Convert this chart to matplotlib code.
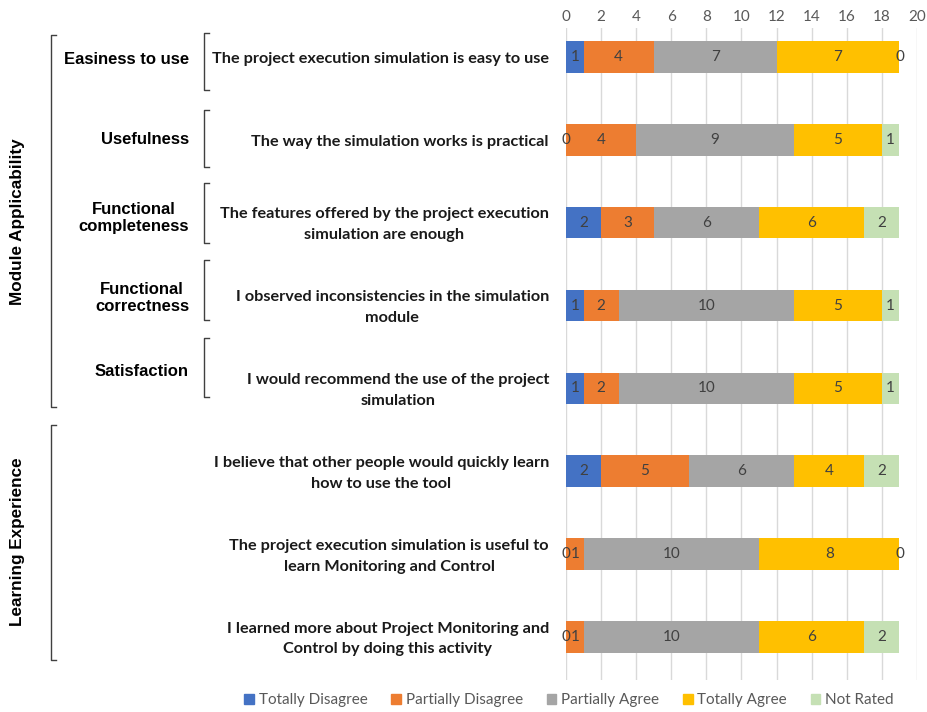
import matplotlib
matplotlib.use('Agg')
import matplotlib.pyplot as plt
from matplotlib.lines import Line2D
from matplotlib.patches import Patch

# data
statements = [
    "The project execution simulation is easy to use",
    "The way the simulation works is practical",
    "The features offered by the project execution\nsimulation are enough",
    "I observed inconsistencies in the simulation\nmodule",
    "I would recommend the use of the project\nsimulation",
    "I believe that other people would quickly learn\nhow to use the tool",
    "The project execution simulation is useful to\nlearn Monitoring and Control",
    "I learned more about Project Monitoring and\nControl by doing this activity",
]
series = ["Totally Disagree", "Partially Disagree", "Partially Agree", "Totally Agree", "Not Rated"]
totally_disagree = [1, 0, 2, 1, 1, 2, 0, 0]
partially_disagree = [4, 4, 3, 2, 2, 5, 1, 1]
partially_agree = [7, 9, 6, 10, 10, 6, 10, 10]
totally_agree = [7, 5, 6, 5, 5, 4, 8, 6]
not_rated = [0, 1, 2, 1, 1, 2, 0, 2]
criteria = ["Easiness to use", "Usefulness", "Functional\ncompleteness",
            "Functional\ncorrectness", "Satisfaction"]
groups = ["Module Applicability", "Learning Experience"]

colors = ["#4472C4", "#ED7D31", "#A5A5A5", "#FFC000", "#C5E0B4"]
values = [totally_disagree, partially_disagree, partially_agree, totally_agree, not_rated]

W, H = 928, 712
fig = plt.figure(figsize=(W / 100, H / 100), dpi=100)


def fx(x):
    return x / W


def fy(y):
    return 1 - y / H


ax = fig.add_axes([fx(566), fy(680), fx(917) - fx(566), fy(28) - fy(680)])

n = len(statements)
ypos = list(range(n))
left = [0] * n
for name, vals, c in zip(series, values, colors):
    ax.barh(ypos, vals, left=left, height=0.38, color=c, label=name, zorder=3)
    for i, v in enumerate(vals):
        ax.text(left[i] + v / 2, i, str(v), ha='center', va='center',
                fontsize=11, color='#404040', family='Lato', zorder=4)
    left = [l + v for l, v in zip(left, vals)]

ax.set_xlim(0, 20)
ax.set_ylim(7.52, -0.35)
ax.set_xticks(range(0, 21, 2))
ax.xaxis.tick_top()
ax.tick_params(axis='x', length=0, labelsize=11, labelcolor='#595959', pad=3)
for lab in ax.get_xticklabels():
    lab.set_family('Lato')
ax.set_yticks([])
ax.grid(axis='x', color='#D9D9D9', linewidth=1, zorder=0)
for s in ax.spines.values():
    s.set_visible(False)

# statements
for i, s in enumerate(statements):
    yc = 59 + 82.86 * i
    fig.text(fx(549), fy(yc), s, ha='right', va='center', multialignment='center',
             fontsize=11.7, fontweight='bold', family='Lato', color='#1a1a1a',
             linespacing=1.62)

# criteria labels and brackets
crit_y = [60, 140, 218, 298, 371]
brackets = [(33, 90), (110, 167), (183, 243), (260, 320), (338, 397)]
for c, y in zip(criteria, crit_y):
    fig.text(fx(189), fy(y), c, ha='right', va='center', multialignment='center',
             fontsize=12, fontweight='bold', family='Liberation Sans', linespacing=1.15)


def bracket(x, y0, y1):
    xs = [fx(x + 5), fx(x), fx(x), fx(x + 5)]
    ys = [fy(y0), fy(y0), fy(y1), fy(y1)]
    fig.add_artist(Line2D(xs, ys, color='#404040', linewidth=1))


for y0, y1 in brackets:
    bracket(204, y0, y1)

bracket(51, 35, 407)
bracket(51, 425, 660)
fig.text(fx(18), fy(222), groups[0], rotation=90, ha='center', va='center',
         fontsize=12.3, fontweight='bold', family='Liberation Sans')
fig.text(fx(18), fy(542), groups[1], rotation=90, ha='center', va='center',
         fontsize=12.3, fontweight='bold', family='Liberation Sans')

handles = [Patch(color=c) for c in colors]
leg = fig.legend(handles, series, loc='center', bbox_to_anchor=(fx(569), fy(700)),
                 ncol=5, frameon=False, handlelength=0.65, handleheight=0.65,
                 handletextpad=0.3, columnspacing=1.55,
                 prop={'family': 'Lato', 'size': 11})
for t in leg.get_texts():
    t.set_color('#595959')

fig.savefig('out.png', dpi=100)
